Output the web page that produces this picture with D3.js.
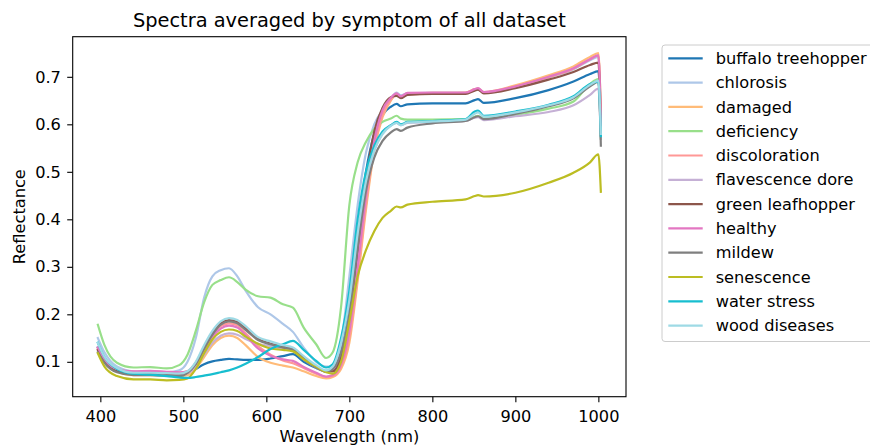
<!DOCTYPE html>
<html><head><meta charset="utf-8">
<script src="https://cdn.jsdelivr.net/npm/d3@7"></script>
<style>body{margin:0;background:#fff}svg{display:block}text{font-family:"DejaVu Sans",sans-serif;fill:#000}</style>
</head><body>
<script>
const wavelengths = [397,405,420,440,460,480,495,505,515,525,535,545,555,565,575,590,605,620,632,645,660,672,680,690,700,710,720,730,740,750,757,762,770,800,840,851,855,862,900,940,970,990,1000,1003];
const symptoms = ["buffalo treehopper","chlorosis","damaged","deficiency","discoloration","flavescence dore","green leafhopper","healthy","mildew","senescence","water stress","wood diseases"];
const colors = ["#1f77b4","#aec7e8","#ffbb78","#98df8a","#ff9896","#c5b0d5","#8c564b","#e377c2","#7f7f7f","#bcbd22","#17becf","#9edae5"];
const buffaloTreehopper = [0.13,0.105,0.083,0.075,0.075,0.073,0.072,0.076,0.085,0.095,0.101,0.104,0.106,0.105,0.104,0.104,0.107,0.112,0.116,0.1,0.087,0.08,0.082,0.12,0.22,0.37,0.5,0.58,0.62,0.637,0.643,0.638,0.642,0.644,0.644,0.651,0.653,0.645,0.655,0.672,0.69,0.706,0.712,0.6];
const chlorosis = [0.15,0.12,0.09,0.08,0.079,0.078,0.082,0.1,0.15,0.235,0.28,0.293,0.297,0.28,0.25,0.215,0.2,0.18,0.163,0.13,0.1,0.09,0.09,0.14,0.28,0.43,0.54,0.6,0.63,0.655,0.667,0.661,0.665,0.666,0.666,0.673,0.675,0.667,0.679,0.699,0.716,0.735,0.742,0.63];
const damaged = [0.125,0.1,0.08,0.072,0.072,0.071,0.07,0.072,0.085,0.11,0.135,0.15,0.155,0.15,0.135,0.11,0.098,0.092,0.088,0.08,0.07,0.065,0.068,0.085,0.14,0.27,0.42,0.545,0.615,0.65,0.664,0.658,0.665,0.666,0.667,0.674,0.675,0.668,0.682,0.703,0.722,0.742,0.75,0.62];
const deficiency = [0.178,0.135,0.098,0.088,0.089,0.086,0.093,0.115,0.165,0.225,0.262,0.272,0.278,0.268,0.252,0.238,0.235,0.221,0.214,0.172,0.137,0.108,0.12,0.215,0.43,0.52,0.563,0.59,0.605,0.612,0.618,0.612,0.61,0.61,0.611,0.616,0.618,0.612,0.62,0.633,0.648,0.685,0.695,0.57];
const discoloration = [0.128,0.104,0.085,0.079,0.08,0.078,0.077,0.08,0.098,0.128,0.157,0.175,0.181,0.177,0.16,0.133,0.115,0.103,0.097,0.087,0.075,0.068,0.07,0.09,0.15,0.28,0.43,0.55,0.62,0.652,0.662,0.656,0.663,0.664,0.665,0.672,0.674,0.666,0.679,0.699,0.717,0.737,0.745,0.62];
const flavescenceDore = [0.13,0.103,0.082,0.075,0.075,0.074,0.073,0.076,0.09,0.115,0.14,0.155,0.16,0.157,0.148,0.138,0.133,0.127,0.124,0.105,0.088,0.079,0.082,0.12,0.2,0.34,0.47,0.545,0.58,0.598,0.603,0.598,0.603,0.605,0.607,0.614,0.615,0.609,0.617,0.626,0.64,0.662,0.675,0.57];
const greenLeafhopper = [0.125,0.1,0.08,0.074,0.074,0.073,0.072,0.078,0.097,0.13,0.16,0.181,0.188,0.184,0.17,0.148,0.138,0.132,0.127,0.108,0.09,0.08,0.08,0.11,0.19,0.33,0.48,0.585,0.635,0.657,0.66,0.655,0.662,0.664,0.664,0.671,0.673,0.665,0.676,0.694,0.71,0.725,0.73,0.6];
const healthy = [0.13,0.105,0.085,0.08,0.081,0.079,0.078,0.08,0.096,0.125,0.152,0.17,0.176,0.172,0.156,0.128,0.113,0.105,0.102,0.089,0.077,0.069,0.072,0.095,0.165,0.3,0.45,0.565,0.63,0.656,0.665,0.659,0.666,0.667,0.667,0.674,0.676,0.668,0.68,0.7,0.718,0.737,0.745,0.6];
const mildew = [0.12,0.098,0.078,0.072,0.072,0.071,0.07,0.077,0.095,0.127,0.157,0.178,0.185,0.181,0.167,0.146,0.137,0.13,0.125,0.105,0.088,0.079,0.085,0.12,0.2,0.34,0.46,0.53,0.565,0.583,0.59,0.586,0.593,0.602,0.607,0.615,0.617,0.611,0.622,0.638,0.655,0.68,0.69,0.555];
const senescence = [0.118,0.09,0.07,0.063,0.063,0.061,0.062,0.065,0.085,0.118,0.147,0.163,0.168,0.165,0.153,0.138,0.128,0.125,0.122,0.105,0.09,0.078,0.075,0.1,0.185,0.28,0.335,0.375,0.403,0.418,0.427,0.425,0.431,0.437,0.442,0.449,0.451,0.448,0.456,0.477,0.498,0.52,0.537,0.458];
const waterStress = [0.14,0.11,0.085,0.075,0.073,0.07,0.067,0.066,0.068,0.071,0.074,0.078,0.082,0.088,0.096,0.11,0.127,0.137,0.144,0.125,0.102,0.088,0.095,0.15,0.25,0.4,0.5,0.555,0.585,0.598,0.605,0.6,0.605,0.607,0.611,0.627,0.629,0.618,0.627,0.641,0.659,0.685,0.69,0.575];
const woodDiseases = [0.14,0.11,0.087,0.077,0.077,0.076,0.075,0.08,0.1,0.135,0.165,0.185,0.192,0.188,0.175,0.152,0.143,0.135,0.13,0.112,0.093,0.082,0.09,0.14,0.23,0.37,0.48,0.545,0.58,0.597,0.603,0.598,0.604,0.606,0.61,0.622,0.625,0.616,0.625,0.64,0.657,0.683,0.692,0.58];
const seriesValues = [buffaloTreehopper,chlorosis,damaged,deficiency,discoloration,flavescenceDore,greenLeafhopper,healthy,mildew,senescence,waterStress,woodDiseases];
const xTicks = [400,500,600,700,800,900,1000];
const yTicks = [0.1,0.2,0.3,0.4,0.5,0.6,0.7];

const W = 870, H = 447;
const FS = 16.2;
const m = {left:72.7, right:626, top:36.7, bottom:396.7};
const svg = d3.select("body").append("svg").attr("width",W).attr("height",H);

const xmin = d3.min(wavelengths), xmax = d3.max(wavelengths);
const allV = seriesValues.flat();
const ymin = d3.min(allV), ymax = d3.max(allV);
const xpad = (xmax-xmin)*0.05, ypad = (ymax-ymin)*0.05;
const x = d3.scaleLinear().domain([xmin-xpad, xmax+xpad]).range([m.left, m.right]);
const y = d3.scaleLinear().domain([ymin-ypad, ymax+ypad]).range([m.bottom, m.top]);

const line = d3.line().x(d=>x(d[0])).y(d=>y(d[1])).curve(d3.curveMonotoneX);
const g = svg.append("g");
seriesValues.forEach((vals,i)=>{
  g.append("path").datum(wavelengths.map((w,j)=>[w,vals[j]]))
    .attr("d",line).attr("fill","none").attr("stroke",colors[i])
    .attr("stroke-width",2.2).attr("stroke-linejoin","round").attr("stroke-linecap","square");
});

const xAxis = svg.append("g").attr("transform",`translate(0,${m.bottom})`)
  .call(d3.axisBottom(x).tickValues(xTicks).tickSize(5.5).tickPadding(8).tickFormat(d3.format("d")));
const yAxis = svg.append("g").attr("transform",`translate(${m.left},0)`)
  .call(d3.axisLeft(y).tickValues(yTicks).tickSize(5.5).tickPadding(6.3).tickFormat(d3.format(".1f")));
[xAxis,yAxis].forEach(a=>{
  a.select(".domain").remove();
  a.selectAll(".tick line").attr("stroke","#000").attr("stroke-width",1.1);
  a.selectAll(".tick text").attr("font-size",FS).attr("font-family","DejaVu Sans").attr("fill","#000");
});
svg.append("rect").attr("x",m.left).attr("y",m.top).attr("width",m.right-m.left).attr("height",m.bottom-m.top)
  .attr("fill","none").attr("stroke","#000").attr("stroke-width",1.1);

svg.append("text").attr("x",(m.left+m.right)/2).attr("y",26.7).attr("text-anchor","middle")
  .attr("font-size",19.4).text("Spectra averaged by symptom of all dataset");
svg.append("text").attr("x",(m.left+m.right)/2).attr("y",441.7).attr("text-anchor","middle")
  .attr("font-size",FS).text("Wavelength (nm)");
svg.append("text").attr("transform",`translate(25,${(m.top+m.bottom)/2}) rotate(-90)`).attr("text-anchor","middle")
  .attr("font-size",FS).text("Reflectance");

const lg = svg.append("g");
lg.append("rect").attr("x",662).attr("y",45).attr("width",230).attr("height",296.5).attr("rx",3)
  .attr("fill","#fff").attr("fill-opacity",0.8).attr("stroke","#cccccc").attr("stroke-width",1);
symptoms.forEach((s,i)=>{
  const yy = 58.3 + i*24.3;
  lg.append("line").attr("x1",668.3).attr("x2",702.7).attr("y1",yy).attr("y2",yy)
    .attr("stroke",colors[i]).attr("stroke-width",2.2);
  lg.append("text").attr("x",715.7).attr("y",yy).attr("dy","0.35em").attr("font-size",FS).text(s);
});
</script>
</body></html>
